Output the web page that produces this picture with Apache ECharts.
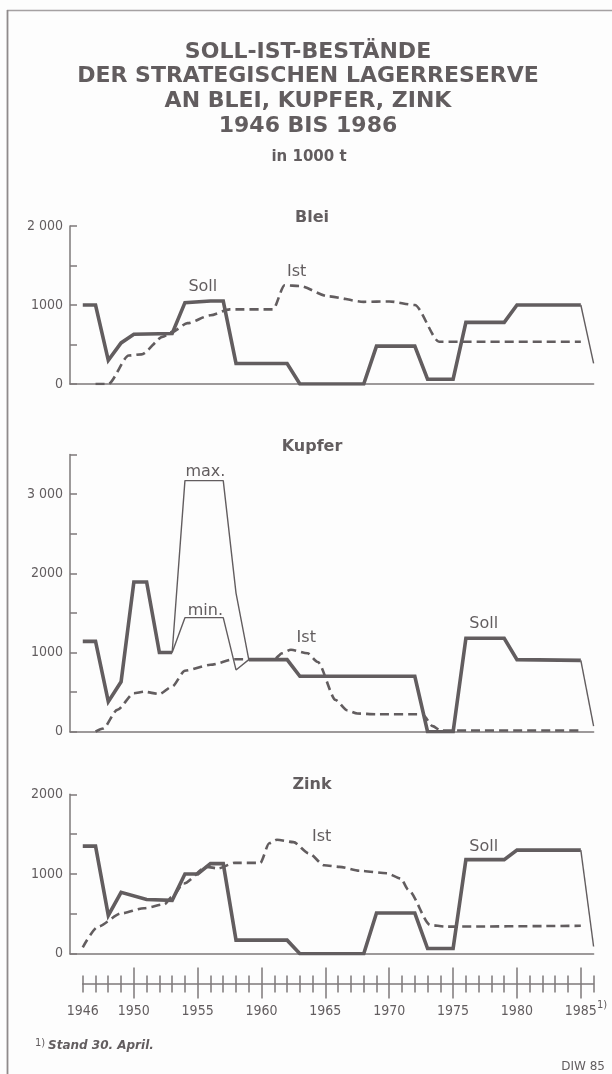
<!DOCTYPE html>
<html><head><meta charset="utf-8">
<script src="https://cdn.jsdelivr.net/npm/echarts@6/dist/echarts.min.js"></script>
<style>html,body{margin:0;padding:0;background:#fdfdfd}#c{width:612px;height:1074px}</style>
</head><body><div id="c"></div>
<script>
// ---------- data ----------
const titleLines = ['SOLL-IST-BESTÄNDE', 'DER STRATEGISCHEN LAGERRESERVE', 'AN BLEI, KUPFER, ZINK', '1946 BIS 1986'];
const unitLabel = 'in 1000 t';
const panelNames = ['Blei', 'Kupfer', 'Zink'];
const bleiYLabels = ['0', '1000', '2 000'];
const kupferYLabels = ['0', '1000', '2000', '3 000'];
const zinkYLabels = ['0', '1000', '2000'];
const xLabelYears = [1946, 1950, 1955, 1960, 1965, 1970, 1975, 1980, 1985];
const xLabels = ['1946', '1950', '1955', '1960', '1965', '1970', '1975', '1980', '1985'];
const majorTickYears = [1950, 1955, 1960, 1965, 1970, 1975, 1980, 1985];
const footnote = 'Stand 30. April.';
const sourceLabel = 'DIW 85';

// Blei
const bleiSoll = [[1946,1000],[1947,1000],[1948,300],[1949,520],[1950,630],[1953,640],[1954,1030],[1956,1050],[1957,1050],[1958,260],[1962,260],[1963,0],[1968,0],[1969,480],[1972,480],[1973,60],[1975,60],[1976,780],[1979,780],[1980,1000],[1985,1000]];
const bleiSollEnd = [[1985,1000],[1986,260]];
const bleiIst = [[1947,0],[1948,0],[1949.6,360],[1950.6,375],[1952.3,600],[1953,660],[1954.2,770],[1956,870],[1957.5,945],[1960.9,945],[1961.8,1250],[1963,1240],[1965.2,1110],[1968,1040],[1970,1045],[1972,1000],[1973.9,535],[1985,535]];

// Kupfer
const kupferSoll1 = [[1946,1140],[1947,1140],[1948,380],[1949,630],[1950,1890],[1951,1890],[1952,1000],[1953,1000]];
const kupferSoll2 = [[1959,910],[1962,910],[1963,700],[1972,700],[1973,0],[1975,0],[1976,1180],[1979,1180],[1980,910],[1985,900]];
const kupferSollEnd = [[1985,900],[1986,70]];
const kupferMax = [[1953,1000],[1954,3170],[1957,3170],[1958,1750],[1959,910]];
const kupferMin = [[1953,1000],[1954,1440],[1957,1440],[1958,780],[1959,910]];
const kupferIst = [[1947,0],[1947.6,40],[1948.7,275],[1950,485],[1950.8,505],[1952,475],[1953,570],[1954,770],[1956,845],[1957.9,915],[1961,915],[1961.6,990],[1962.3,1035],[1963.6,990],[1964.4,880],[1965.8,400],[1966.7,270],[1967.5,230],[1969,220],[1972.6,220],[1973.4,70],[1974,15],[1985,15]];

// Zink
const zinkSoll = [[1946,1350],[1947,1350],[1948,480],[1949,770],[1951,680],[1953,670],[1954,1000],[1955,1000],[1956,1130],[1957,1130],[1958,170],[1962,170],[1963,0],[1968,0],[1969,510],[1972,510],[1973,65],[1975,65],[1976,1180],[1979,1180],[1980,1300],[1985,1300]];
const zinkSollEnd = [[1985,1300],[1986,90]];
const zinkIst = [[1946,80],[1947.2,340],[1949,505],[1950.8,570],[1952.4,620],[1953,715],[1953.9,880],[1955.7,1090],[1956.6,1070],[1957.9,1140],[1959.9,1140],[1960.6,1385],[1961.2,1430],[1962.5,1400],[1963.7,1260],[1964.9,1110],[1966.1,1090],[1967.7,1040],[1969.8,1010],[1970.9,945],[1971.5,800],[1973.2,360],[1974.4,340],[1985,350]];

// in-chart annotations: [panel, text, year, value]
const annotations = [
  [0, 'Soll', 1955.4, 1230], [0, 'Ist', 1962.75, 1420],
  [1, 'max.', 1955.6, 3280], [1, 'min.', 1955.6, 1530], [1, 'Ist', 1963.5, 1180], [1, 'Soll', 1977.4, 1360],
  [2, 'Ist', 1964.7, 1460], [2, 'Soll', 1977.4, 1340]
];

// ---------- style ----------
const ink = '#625d5f';
const axisInk = '#7d7879';
const narrow = '"Liberation Sans Narrow","DejaVu Sans Condensed",sans-serif';
const sans = '"DejaVu Sans",sans-serif';

const chart = echarts.init(document.getElementById('c'), null, {renderer: 'canvas'});

const panelGrids = [
  {left: 70, top: 226, width: 523.6, height: 158},
  {left: 70, top: 454.5, width: 523.6, height: 277.2},
  {left: 70, top: 794.3, width: 523.6, height: 159.4}
];
const yMaxes = [2000, 3500, 2000];
const yLabelSets = [bleiYLabels, kupferYLabels, zinkYLabels];

const grids = panelGrids.map(g => Object.assign({containLabel: false, outerBoundsMode: 'none'}, g));
grids.push({left: 82.7, top: 982.5, width: 510.8, height: 1, containLabel: false, outerBoundsMode: 'none'});

const xAxes = [];
const yAxes = [];
for (let i = 0; i < 3; i++) {
  xAxes.push({gridIndex: i, type: 'value', min: 1945, max: 1986,
    axisLine: {show: true, onZero: false, lineStyle: {color: axisInk, width: 1.5}},
    axisTick: {show: false}, axisLabel: {show: false}, splitLine: {show: false}});
  const labels = yLabelSets[i];
  yAxes.push({gridIndex: i, type: 'value', min: 0, max: yMaxes[i], interval: 500,
    axisLine: {show: true, lineStyle: {color: axisInk, width: 1.5}},
    axisTick: {show: true, inside: true, length: 7, lineStyle: {color: axisInk, width: 1.5}},
    axisLabel: {margin: 7, fontFamily: narrow, fontSize: 14, color: ink,
      formatter: v => (v % 1000 === 0 && labels[v / 1000] !== undefined) ? labels[v / 1000] : ''},
    splitLine: {show: false}});
}
// time strip
const stripBase = {gridIndex: 3, type: 'value', min: 1946, max: 1986, interval: 1, splitLine: {show: false}};
xAxes.push(Object.assign({}, stripBase, {position: 'bottom',
  axisLine: {show: true, onZero: false, lineStyle: {color: axisInk, width: 1.5}},
  axisTick: {show: true, length: 9, lineStyle: {color: axisInk, width: 1.5}},
  axisLabel: {show: true, margin: 21, fontFamily: narrow, fontSize: 14, color: ink,
    formatter: v => { const k = xLabelYears.indexOf(v); return k >= 0 ? xLabels[k] : ''; }}}));
xAxes.push(Object.assign({}, stripBase, {position: 'top',
  axisLine: {show: false}, axisTick: {show: true, length: 8, lineStyle: {color: axisInk, width: 1.5}},
  axisLabel: {show: false}}));
xAxes.push(Object.assign({}, stripBase, {position: 'bottom',
  axisLine: {show: false}, axisTick: {show: true, length: 15, customValues: majorTickYears, lineStyle: {color: axisInk, width: 1.5}},
  axisLabel: {show: false}}));
xAxes.push(Object.assign({}, stripBase, {position: 'top',
  axisLine: {show: false}, axisTick: {show: true, length: 15, customValues: majorTickYears, lineStyle: {color: axisInk, width: 1.5}},
  axisLabel: {show: false}}));
yAxes.push({gridIndex: 3, type: 'value', min: 0, max: 1, show: false});

function thick(idx, data) {
  return {type: 'line', xAxisIndex: idx, yAxisIndex: idx, data, symbol: 'none', silent: true, z: 4,
    lineStyle: {color: ink, width: 3.6, join: 'miter'}};
}
function thin(idx, data) {
  return {type: 'line', xAxisIndex: idx, yAxisIndex: idx, data, symbol: 'none', silent: true, z: 3,
    lineStyle: {color: ink, width: 1.4}};
}
function dashed(idx, data) {
  return {type: 'line', xAxisIndex: idx, yAxisIndex: idx, data, symbol: 'none', silent: true, z: 2,
    smooth: 0.25, smoothMonotone: 'x', lineStyle: {color: ink, width: 2.6, type: [9, 5]}};
}

const series = [
  dashed(0, bleiIst), thick(0, bleiSoll), thin(0, bleiSollEnd),
  dashed(1, kupferIst), thin(1, kupferMax), thin(1, kupferMin), thick(1, kupferSoll1), thick(1, kupferSoll2), thin(1, kupferSollEnd),
  dashed(2, zinkIst), thick(2, zinkSoll), thin(2, zinkSollEnd)
];

function txt(text, x, y, font, align, extra) {
  return Object.assign({type: 'text', silent: true, z: 10,
    style: {text, x, y, font, fill: ink, textAlign: align || 'center', textVerticalAlign: 'middle', align: align || 'center', verticalAlign: 'middle'}}, extra || {});
}

const graphics = [
  {type: 'line', silent: true, shape: {x1: 7, y1: 10.5, x2: 612, y2: 10.5}, style: {stroke: '#a5a1a2', lineWidth: 1.6}},
  {type: 'line', silent: true, shape: {x1: 7.5, y1: 10, x2: 7.5, y2: 1074}, style: {stroke: '#8f8a8b', lineWidth: 1.8}}
];
const titleY = [52, 76.5, 101.5, 126.5];
titleLines.forEach((t, k) => graphics.push(txt(t, 308, titleY[k], 'bold 22px ' + sans)));
graphics.push(txt(unitLabel, 309, 157, 'bold 15px ' + sans));
const panelTitleY = [218, 447, 785];
panelNames.forEach((t, k) => graphics.push(txt(t, 312, panelTitleY[k], 'bold 16px ' + sans)));
graphics.push(txt('1)', 597, 1005, '10px ' + sans, 'left'));
graphics.push(txt('1)', 35, 1043, '10px ' + sans, 'left'));
graphics.push(txt(footnote, 48, 1046, 'italic bold 12px ' + sans, 'left'));
graphics.push(txt(sourceLabel, 605, 1067, '12px ' + sans, 'right'));

chart.setOption({
  animation: false,
  backgroundColor: '#fdfdfd',
  grid: grids, xAxis: xAxes, yAxis: yAxes, series: series, graphic: graphics
});

// place annotations via the axes' own scales
annotations.forEach(a => {
  const p = chart.convertToPixel({gridIndex: a[0]}, [a[2], a[3]]);
  graphics.push(txt(a[1], p[0], p[1], '16px ' + sans));
});
chart.setOption({graphic: graphics});
</script></body></html>
